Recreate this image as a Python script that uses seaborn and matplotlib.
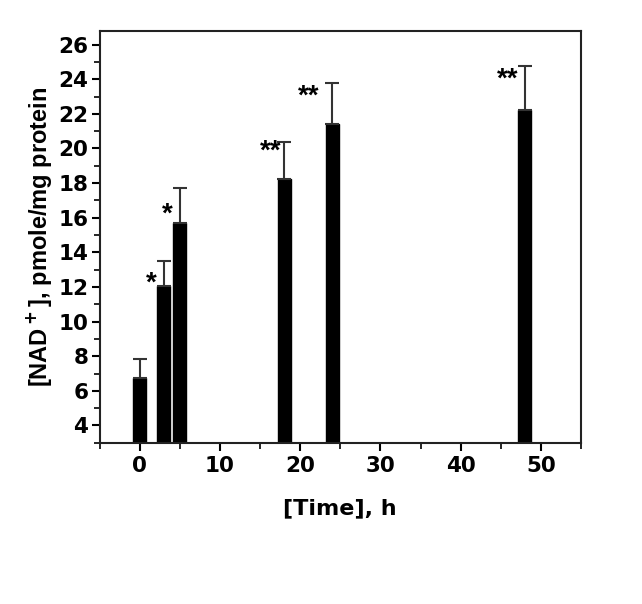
import numpy as np
import pandas as pd
import matplotlib
matplotlib.use("Agg")
import matplotlib.pyplot as plt
import seaborn as sns
from matplotlib.ticker import MultipleLocator

# datos
tiempo = [0, 3, 5, 18, 24, 48]
nad = [6.75, 12.05, 15.7, 18.25, 21.4, 22.2]
error = [1.1, 1.45, 2.0, 2.1, 2.4, 2.55]
signif = ["", "*", "*", "**", "**", "**"]
# desplazamiento de los asteriscos respecto a la punta del error (x en h, y en pmole)
ast_dx = [0, -1.5, -1.5, -1.7, -2.9, -2.1]
ast_dy = [0, -1.3, -1.5, -0.55, -0.8, -0.75]

sns.set_style("ticks")
plt.rcParams['font.family'] = ['DejaVu Sans']
plt.rcParams['font.weight'] = 'bold'
plt.rcParams['text.color'] = 'black'
plt.rcParams['axes.labelcolor'] = 'black'
plt.rcParams['xtick.color'] = 'black'
plt.rcParams['ytick.color'] = 'black'

df = pd.DataFrame({"tiempo": tiempo, "nad": nad, "error": error})

fig = plt.figure(figsize=(6.42, 6.04), dpi=100)
ax = fig.add_axes([0.155, 0.267, 0.75, 0.682])

sns.barplot(data=df, x="tiempo", y="nad", native_scale=True, width=0.8,
            color="black", edgecolor="black", errorbar=None, ax=ax)
# barras de error solo hacia arriba
ax.errorbar(tiempo, nad, yerr=[np.zeros(len(error)), error], fmt="none",
            ecolor="#333333", elinewidth=1.5, capsize=5, capthick=1.5)

for t, v, e, s, dx, dy in zip(tiempo, nad, error, signif, ast_dx, ast_dy):
    if s:
        ax.text(t + dx, v + e + dy, s, ha="center", va="center",
                fontsize=20, fontweight="bold", color="black", family="Liberation Sans")

ax.set_xlim(-5, 55)
ax.set_ylim(3, 26.8)
ax.xaxis.set_major_locator(MultipleLocator(10))
ax.xaxis.set_minor_locator(MultipleLocator(5))
ax.yaxis.set_minor_locator(MultipleLocator(1))
ax.set_yticks(np.arange(4, 27, 2))
ax.tick_params(axis="both", which="major", length=6, width=1.5, labelsize=15.5, direction="out")
ax.tick_params(axis="y", which="major", pad=2)
ax.tick_params(axis="both", which="minor", length=4, width=1.2, direction="out")
for sp in ax.spines.values():
    sp.set_linewidth(1.5)
    sp.set_color("#222222")

ax.set_xlabel("[Time], h", fontsize=16, fontweight="bold", labelpad=16)
ax.set_ylabel("[NAD$^{\\bf +}$], pmole/mg protein", fontsize=17, fontweight="bold",
              labelpad=3, family="Liberation Sans")

fig.savefig("out.png", dpi=100)
